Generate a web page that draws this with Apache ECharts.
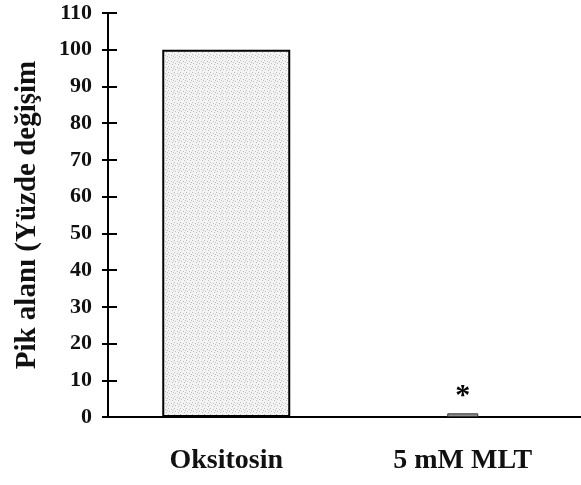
<!DOCTYPE html>
<html>
<head>
<meta charset="utf-8">
<script src="https://cdn.jsdelivr.net/npm/echarts@6/dist/echarts.min.js"></script>
<style>
  html, body { margin: 0; padding: 0; background: #fff; }
  #chart { width: 581px; height: 485px; }
</style>
</head>
<body>
<div id="chart"></div>
<script>
// data
const categories = ['Oksitosin', '5 mM MLT'];
const oksitosinValues = [100, '-'];
const mltValues = ['-', 1];
const yTicks = [0, 110, 10]; // min, max, step
const yName = 'Pik alanı (Yüzde değişim';

const serif = '"Liberation Serif", "DejaVu Serif", serif';

// light stippled fill like the scanned bar
function stipple() {
  const c = document.createElement('canvas');
  c.width = 6; c.height = 6;
  const ctx = c.getContext('2d');
  ctx.fillStyle = '#f3f3f3';
  ctx.fillRect(0, 0, 6, 6);
  ctx.fillStyle = '#bcbcbc';
  [[0, 0], [3, 1], [1, 3], [4, 4], [5, 2]].forEach(p => ctx.fillRect(p[0], p[1], 1, 1));
  return c;
}

const chart = echarts.init(document.getElementById('chart'));
const option = {
  animation: false,
  backgroundColor: '#fff',
  grid: { left: 108, right: -5, top: 13, bottom: 68 },
  xAxis: [{
    type: 'category',
    data: categories,
    axisLine: { lineStyle: { color: '#000', width: 2 } },
    axisTick: { show: false },
    axisLabel: { color: '#111', fontFamily: serif, fontWeight: 'bold', fontSize: 28, margin: 30 }
  }, {
    type: 'category',
    data: categories,
    show: false
  }],
  yAxis: [{
    type: 'value',
    position: 'left',
    min: yTicks[0], max: yTicks[1], interval: yTicks[2],
    name: yName,
    nameLocation: 'middle',
    nameGap: 66,
    nameTextStyle: { color: '#111', fontFamily: serif, fontWeight: 'bold', fontSize: 29 },
    axisLine: { show: true, lineStyle: { color: '#000', width: 2 } },
    axisTick: { show: true, length: 6, lineStyle: { color: '#000', width: 2 } },
    axisLabel: { color: '#111', fontFamily: serif, fontWeight: 'bold', fontSize: 22, margin: 16 },
    splitLine: { show: false }
  }, {
    type: 'value',
    position: 'left',
    min: yTicks[0], max: yTicks[1], interval: yTicks[2],
    axisLine: { show: false },
    axisTick: { show: true, inside: true, length: 9, lineStyle: { color: '#000', width: 2 } },
    axisLabel: { show: false },
    splitLine: { show: false }
  }],
  series: [{
    type: 'bar',
    data: oksitosinValues,
    barWidth: 128,
    itemStyle: { color: { image: stipple(), repeat: 'repeat' }, borderColor: '#000', borderWidth: 2 }
  }, {
    type: 'bar',
    xAxisIndex: 1,
    data: mltValues,
    barWidth: 31,
    itemStyle: { color: '#8e8e8e', borderColor: '#333', borderWidth: 1 },
    label: {
      show: true, position: 'top', distance: 2, formatter: '*',
      color: '#000', fontFamily: serif, fontWeight: 'bold', fontSize: 30
    }
  }]
};
chart.setOption(option);
</script>
</body>
</html>
